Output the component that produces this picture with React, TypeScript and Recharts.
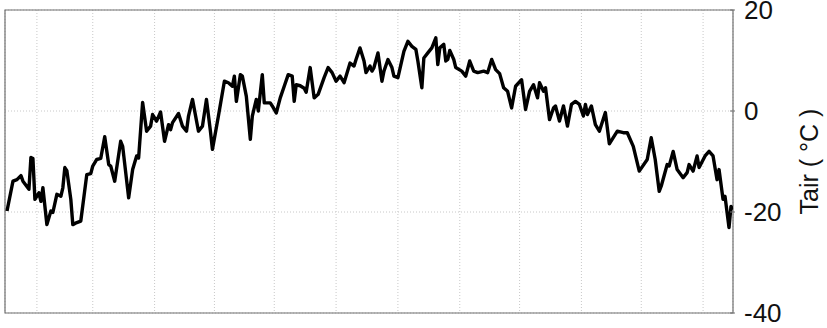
import { LineChart, Line, XAxis, YAxis, CartesianGrid, ReferenceArea } from 'recharts';

// day of record (0 = left edge of the plot) and air temperature in °C
const DAYS = [
  1, 4, 6, 8, 9, 12, 13, 14, 15, 17, 18, 19, 21, 23, 24, 26, 28, 29, 30, 31,
  33, 34, 36, 38, 41, 43, 44, 46, 48, 50, 52, 53, 55, 58, 59, 62, 64, 66, 67, 69,
  71, 73, 74, 76, 78, 80, 82, 83, 84, 87, 89, 91, 92, 94, 97, 99, 101, 103, 104, 107,
  110, 112, 114, 115, 116, 118, 119, 121, 123, 124, 126, 127, 129, 130, 133, 134, 136, 138, 140, 142,
  144, 145, 146, 148, 150, 151, 153, 155, 157, 160, 162, 164, 166, 168, 170, 173, 175, 176, 178, 180,
  181, 183, 184, 185, 187, 189, 190, 192, 194, 195, 197, 200, 202, 204, 206, 207, 209, 210, 212, 214,
  216, 217, 218, 220, 221, 222, 223, 225, 226, 229, 231, 233, 235, 237, 240, 242, 244, 246, 248, 250,
  252, 254, 256, 259, 261, 263, 265, 267, 268, 270, 271, 273, 275, 276, 278, 280, 282, 284, 286, 288,
  290, 291, 292, 294, 296, 298, 301, 303, 307, 310, 312, 315, 318, 322, 324, 326, 328, 329, 332, 333,
  335, 337, 340, 342, 343, 345, 347, 348, 351, 353, 355, 357, 358, 360, 361, 363, 364, 365,
];
const TAIR = [
  -19.8, -13.9, -13.6, -12.8, -13.9, -15.5, -9.2, -9.4, -17.5, -16.2, -17.9, -15.2, -22.5, -19.8, -20.1, -16.5, -16.9, -15.2, -11.2, -11.8,
  -17.5, -22.5, -22.1, -21.8, -12.6, -12.4, -10.9, -9.6, -9.4, -5.1, -10.6, -10.9, -13.9, -6.0, -7.0, -17.2, -11.6, -8.9, -9.3, 1.7,
  -4.0, -3.0, -0.7, -2.0, -0.2, -6.0, -2.7, -3.7, -2.3, -0.5, -3.0, -4.0, -1.0, 2.3, -4.0, -3.0, 2.3, -4.0, -7.6, -1.0,
  5.9, 5.6, 4.9, 6.9, 1.9, 7.2, 6.9, 2.9, -5.6, -1.0, 2.3, 0, 7.2, 1.6, 1.6, 1.0, -0.4, 2.6, 4.9, 7.2,
  6.9, 1.9, 5.2, 5.0, 4.5, 3.7, 8.6, 2.6, 3.3, 6.6, 8.6, 7.6, 5.9, 6.9, 5.6, 9.5, 8.9, 10.2, 12.5, 9.9,
  7.6, 8.9, 7.9, 8.6, 11.5, 5.9, 7.9, 10.2, 8.6, 6.9, 6.6, 11.8, 13.8, 12.8, 12.2, 9.9, 4.6, 10.5, 11.5, 12.5,
  14.5, 9.2, 12.5, 13.2, 9.9, 10.2, 12.0, 10.2, 8.6, 7.9, 6.9, 9.9, 7.9, 7.6, 7.9, 7.6, 10.2, 8.2, 7.4, 4.6,
  3.9, 0.6, 4.9, 6.2, 0.3, 3.9, 5.2, 2.6, 5.6, 3.9, 4.6, -1.7, 0.6, 1.0, -2.0, 1.0, -3.0, 1.3, 1.9, 1.3,
  -1.0, 1.3, -0.7, 1.0, -2.7, -4.0, -0.3, -6.5, -4.0, -4.3, -4.3, -7.0, -11.9, -9.6, -5.3, -9.6, -15.9, -14.9, -10.6, -10.9,
  -8.0, -11.6, -13.2, -12.2, -10.6, -11.9, -8.9, -11.2, -8.9, -8.0, -8.9, -13.6, -11.6, -17.5, -16.9, -23.1, -18.9, -19.5,
];
const MONTH_TICKS = [16, 44, 75, 105, 135, 166, 197, 228, 258, 289, 319, 350];
const TEMP_TICKS = [-40, -20, 0, 20];

const data = DAYS.map((day, i) => ({ day, tair: TAIR[i] }));

const FRAME = '#707070';
const FONT = '"Liberation Sans", Arial, sans-serif';

// little inward tick marks, like the original plot
const BottomTick = ({ x, y }: any) => <line x1={x} x2={x} y1={y} y2={y - 5} stroke={FRAME} />;
const TopTick = ({ x, y }: any) => <line x1={x} x2={x} y1={y} y2={y + 5} stroke={FRAME} />;
const LeftTick = ({ x, y }: any) => <line x1={x} x2={x + 5} y1={y} y2={y} stroke={FRAME} />;

const RightTick = ({ x, y, payload }: any) => (
  <g>
    <line x1={x - 5} x2={x} y1={y} y2={y} stroke={FRAME} />
    <text x={x + 9} y={y} dy={9} fontSize={26} fontFamily={FONT} fill="#111">
      {payload.value}
    </text>
  </g>
);

const AxisLabel = ({ viewBox }: any) => {
  const cx = viewBox.x + 76;
  const cy = viewBox.y + viewBox.height / 2;
  return (
    <text
      x={cx}
      y={cy}
      transform={`rotate(-90 ${cx} ${cy})`}
      textAnchor="middle"
      dy={9}
      fontSize={25}
      fontFamily={FONT}
      fill="#111"
    >
      Tair ( °C )
    </text>
  );
};

export default function App() {
  return (
    <div style={{ position: 'absolute', left: 0, top: 0, width: 827, height: 328, background: '#fff' }}>
      <LineChart width={827} height={328} data={data} margin={{ top: 10, right: 0, left: 5, bottom: 15 }}>
        <CartesianGrid stroke="#c8c8c8" strokeDasharray="1 2" />
        <XAxis
          dataKey="day"
          type="number"
          domain={[0, 365]}
          ticks={MONTH_TICKS}
          height={0}
          tickSize={0}
          tickLine={false}
          axisLine={false}
          tick={<BottomTick />}
          allowDataOverflow
        />
        <XAxis
          xAxisId="top"
          dataKey="day"
          type="number"
          orientation="top"
          domain={[0, 365]}
          ticks={MONTH_TICKS}
          height={0}
          tickSize={0}
          tickLine={false}
          axisLine={false}
          tick={<TopTick />}
          allowDataOverflow
        />
        <YAxis
          orientation="right"
          type="number"
          domain={[-40, 20]}
          ticks={TEMP_TICKS}
          width={94}
          tickSize={0}
          tickLine={false}
          axisLine={false}
          tick={<RightTick />}
          label={<AxisLabel />}
          allowDataOverflow
        />
        <YAxis
          yAxisId="left"
          orientation="left"
          type="number"
          domain={[-40, 20]}
          ticks={TEMP_TICKS}
          width={0}
          tickSize={0}
          tickLine={false}
          axisLine={false}
          tick={<LeftTick />}
          allowDataOverflow
        />
        {/* plot frame */}
        <ReferenceArea x1={0} x2={365} y1={-40} y2={20} fill="none" stroke={FRAME} strokeWidth={1.2} ifOverflow="visible" />
        {/* invisible copy so the top and left axes get drawn */}
        <Line
          xAxisId="top"
          yAxisId="left"
          dataKey="tair"
          stroke="none"
          dot={false}
          activeDot={false}
          legendType="none"
          isAnimationActive={false}
        />
        <Line
          type="linear"
          dataKey="tair"
          stroke="#000"
          strokeWidth={3.4}
          strokeLinejoin="round"
          dot={false}
          isAnimationActive={false}
        />
      </LineChart>
    </div>
  );
}
